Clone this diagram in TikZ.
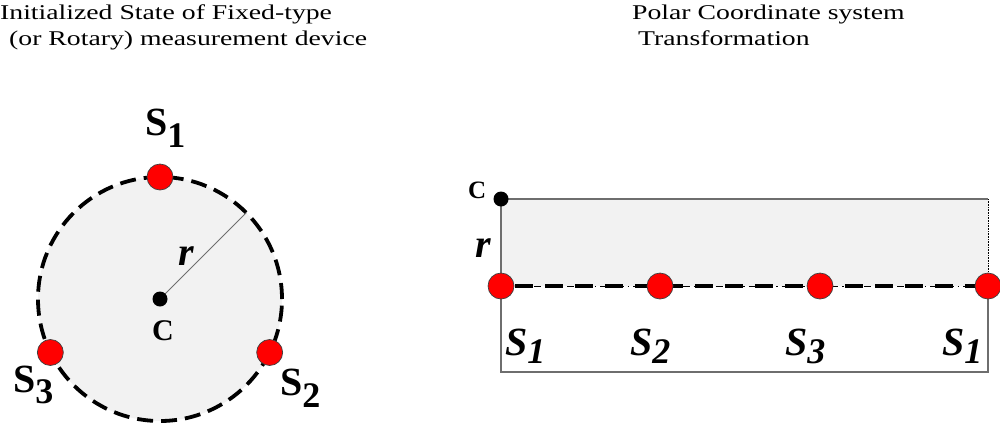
\documentclass[tikz,border=0pt]{standalone}
\usepackage{fontspec}
\setmainfont{Liberation Serif}
\definecolor{fillgray}{RGB}{242,242,242}
\definecolor{edgegray}{RGB}{110,110,110}
\newcommand\mysub[2]{\raisebox{-#1pt}{\fontsize{36}{36}\selectfont #2}}
\newcommand\widetext[1]{\scalebox{1.32}[1]{#1}}
\begin{document}
\begin{tikzpicture}[x=1pt,y=-1pt,
  reddot/.style={circle, fill=red, draw=black!75, line width=0.7pt, minimum size=26pt, inner sep=0pt, outer sep=0pt},
  blackdot/.style={circle, fill=black, minimum size=15pt, inner sep=0pt, outer sep=0pt},
  titletext/.style={anchor=base west, inner sep=0pt, font=\fontsize{21}{25}\selectfont},
  blab/.style={anchor=base west, inner sep=0pt, font=\fontsize{40}{40}\selectfont\bfseries},
  ilab/.style={anchor=base west, inner sep=0pt, font=\fontsize{40}{40}\selectfont\bfseries\itshape},
  clab/.style={anchor=base west, inner sep=0pt, font=\fontsize{30}{30}\selectfont\bfseries},
  thickdash/.style={line width=3.8pt, dash pattern=on 16pt off 8pt}
]
\useasboundingbox (0,0) rectangle (1000,426);

% titles
\node[titletext] (t1) at (0,19) {\widetext{Initialized State of Fixed-type}};
\node[titletext] (t2) at (9,45) {\widetext{(or Rotary) measurement device}};
\node[titletext] (t3) at (632,19) {\widetext{Polar Coordinate system}};
\node[titletext] (t4) at (638,45) {\widetext{Transformation}};

% left: circle
\node[circle, minimum size=244pt, inner sep=0pt, outer sep=0pt, fill=fillgray, draw=black, thickdash] (circ) at (160,299) {};
\draw[edgegray, line width=0.8pt] (circ.center) -- (circ.45);
\node[blackdot] (c) at (circ.center) {};
\node[reddot] (s1) at (circ.90) {};
\node[reddot] (s2) at (circ.-26) {};
\node[reddot] (s3) at (circ.206) {};
\node[blab] (ls1) at (145,135) {S\mysub{12}{1}};
\node[blab] (ls2) at (280,395) {S\mysub{12}{2}};
\node[blab] (ls3) at (13,392) {S\mysub{11}{3}};
\node[ilab] (lr) at (178,265) {r};
\node[clab] (lc) at (152,340) {C};

% right: rectangle
\coordinate (tl) at (501,199);
\coordinate (tr) at (988,199);
\coordinate (ml) at (501,286);
\coordinate (mr) at (988,286);
\coordinate (bl) at (501,372);
\coordinate (br) at (988,372);
\fill[fillgray] (tl) rectangle (mr);
\draw[edgegray, line width=1.2pt] (ml) -- (bl) -- (br) -- (mr);
\draw[edgegray, line width=1.8pt] (ml) -- (tl) -- (tr);
\draw[black, line width=0.6pt, densely dotted] (tr) -- (mr);
\draw[black, line width=0.9pt, dash pattern=on 7pt off 4pt on 1.5pt off 4pt] (ml) -- (mr);
\draw[black, line width=3.8pt, dash pattern=on 18pt off 12pt, dash phase=-14pt] (ml) -- (mr);
\node[reddot] (p1) at (ml) {};
\node[reddot] (p2) at (660,286) {};
\node[reddot] (p3) at (820,286) {};
\node[reddot] (p4) at (mr) {};
\node[blackdot] (pc) at (tl) {};
\node[anchor=base west, inner sep=0pt, font=\fontsize{25}{25}\selectfont\bfseries] (rc) at (468,198) {C};
\node[ilab] (rr) at (475,257) {r};
\node[ilab] (q1) at (505,355) {S\mysub{8}{1}};
\node[ilab] (q2) at (630,355) {S\mysub{8}{2}};
\node[ilab] (q3) at (785,355) {S\mysub{8}{3}};
\node[ilab] (q4) at (942,355) {S\mysub{8}{1}};
\end{tikzpicture}
\end{document}
